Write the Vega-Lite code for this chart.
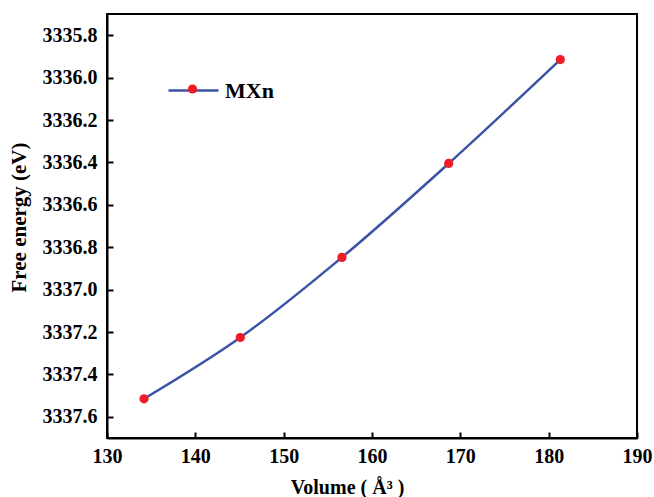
{
  "$schema": "https://vega.github.io/schema/vega-lite/v6.json",
  "autosize": {"type": "none"},
  "padding": {"left": 107, "top": 14, "right": 17, "bottom": 59},
  "width": 530,
  "height": 424,
  "background": "white",
  "config": {
    "font": "Liberation Serif",
    "view": {"stroke": "black", "strokeWidth": 2},
    "axis": {
      "labelFont": "Liberation Serif",
      "labelFontWeight": "bold",
      "labelFontSize": 20,
      "labelColor": "black",
      "titleFont": "Liberation Serif",
      "titleFontWeight": "bold",
      "titleFontSize": 20,
      "titleColor": "black",
      "domainColor": "black",
      "domainWidth": 2,
      "ticks": true,
      "tickColor": "black",
      "tickOpacity": 1,
      "tickWidth": 2,
      "tickSize": -6,
      "grid": false
    }
  },
  "data": {
    "values": [
      {"volume": 134.19, "energy": 3337.515, "line": "MXn", "marker": "MXn"},
      {"volume": 145.09, "energy": 3337.226, "line": "MXn", "marker": "MXn"},
      {"volume": 156.6, "energy": 3336.848, "line": "MXn", "marker": "MXn"},
      {"volume": 168.68, "energy": 3336.405, "line": "MXn", "marker": "MXn"},
      {"volume": 181.32, "energy": 3335.915, "line": "MXn", "marker": "MXn"}
    ]
  },
  "encoding": {
    "x": {
      "field": "volume",
      "type": "quantitative",
      "scale": {"domain": [130, 190], "nice": false, "zero": false},
      "axis": {
        "title": "Volume ( Å³ )",
        "values": [130, 140, 150, 160, 170, 180, 190],
        "labelPadding": 14,
        "labelFlush": false,
        "titleX": 240,
        "titleY": 55,
        "titleBaseline": "alphabetic",
        "titleAnchor": "middle"
      }
    },
    "y": {
      "field": "energy",
      "type": "quantitative",
      "scale": {"domain": [3335.7, 3337.7], "reverse": true, "nice": false, "zero": false},
      "axis": {
        "title": "Free energy (eV)",
        "titleFontSize": 21,
        "values": [3335.8, 3336.0, 3336.2, 3336.4, 3336.6, 3336.8, 3337.0, 3337.2, 3337.4, 3337.6],
        "format": ".1f",
        "labelPadding": 16,
        "labelFlush": false,
        "titleX": -78,
        "titleY": 203,
        "titleBaseline": "bottom",
        "titleAngle": -90,
        "titleAnchor": "middle"
      }
    }
  },
  "layer": [
    {
      "mark": {"type": "line", "interpolate": "monotone", "strokeWidth": 2.5},
      "encoding": {
        "stroke": {
          "field": "line",
          "type": "nominal",
          "scale": {"range": ["#3A53A4"]},
          "legend": {
            "orient": "none",
            "legendX": 60,
            "legendY": 50,
            "title": null,
            "padding": 0,
            "symbolType": "stroke",
            "symbolSize": 2500,
            "symbolStrokeWidth": 2.5,
            "labelFont": "Liberation Serif",
            "labelFontWeight": "bold",
            "labelFontSize": 22,
            "labelColor": "black",
            "labelOffset": 5
          }
        }
      }
    },
    {
      "mark": {"type": "point", "filled": true, "size": 85, "opacity": 1},
      "encoding": {
        "fill": {
          "field": "marker",
          "type": "nominal",
          "scale": {"range": ["#EE1C25"]},
          "legend": {
            "orient": "none",
            "legendX": 74.5,
            "legendY": 64,
            "title": null,
            "padding": 0,
            "symbolType": "circle",
            "symbolSize": 85,
            "symbolOpacity": 1,
            "symbolStrokeWidth": 0,
            "labelExpr": "''",
            "labelFontSize": 22
          }
        }
      }
    }
  ]
}
